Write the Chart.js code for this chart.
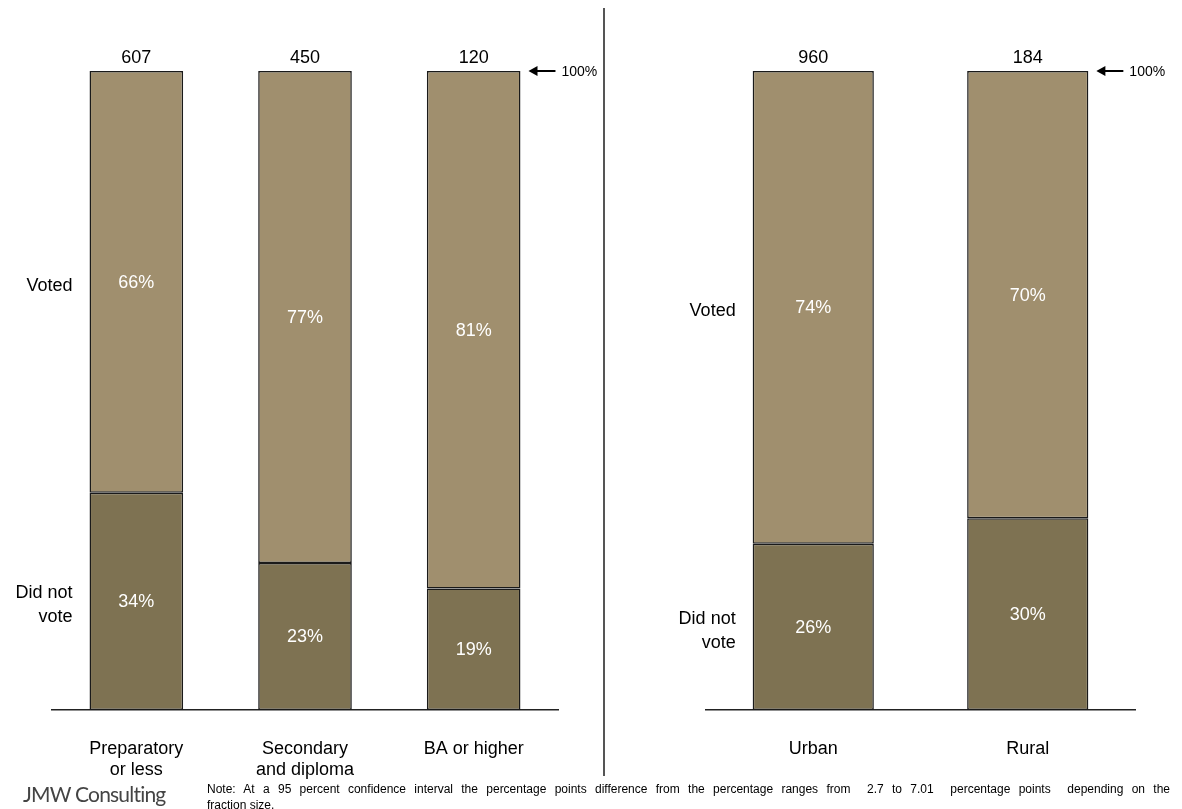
<!DOCTYPE html>
<html>
<head>
<meta charset="utf-8">
<script src="https://cdn.jsdelivr.net/npm/chart.js@4"></script>
<style>
  html, body { margin: 0; padding: 0; background: #fff; }
  #wrap { position: relative; width: 1182px; height: 809px; overflow: hidden; font-family: "Liberation Sans", Arial, sans-serif; }
  #left { position: absolute; left: 0; top: 0; }
  #right { position: absolute; left: 604px; top: 0; }
  #divider { position: absolute; left: 603px; top: 8px; width: 2px; height: 768px; background: #555; }
  #logo { position: absolute; left: 23px; top: 781px; font-family: Lato, "Open Sans", sans-serif; font-size: 21px; color: #444; letter-spacing: -0.8px; }
  #note { position: absolute; left: 207px; top: 781px; width: 963px; font-size: 12px; line-height: 16px; color: #000; white-space: pre-wrap; }
  #note .l1 { text-align: justify; text-align-last: justify; }
</style>
</head>
<body>
<div id="wrap">
  <canvas id="left" width="604" height="809"></canvas>
  <canvas id="right" width="578" height="809"></canvas>
  <div id="divider"></div>
  <div id="logo">JMW Consulting</div>
  <div id="note"><div class="l1">Note: At a 95 percent confidence interval the percentage points difference from the percentage ranges from  2.7 to 7.01  percentage points  depending on the</div><div>fraction size.</div></div>
</div>
<script>
const $ = id => document.getElementById(id);

// education panel
const eduLabels = [["Preparatory", "or less"], ["Secondary", "and diploma"], ["BA or higher"]];
const eduNotVoted = [34, 23, 19];
const eduVoted = [66, 77, 81];
const eduCounts = [607, 450, 120];

// urban / rural panel
const areaLabels = ["Urban", "Rural"];
const areaNotVoted = [26, 30];
const areaVoted = [74, 70];
const areaCounts = [960, 184];

const rowLabels = [["Did not", "vote"], ["Voted"]];
const topMark = "100%";

const FONT = "Liberation Sans";
const LIGHT = "#A08F6E";
const DARK = "#7E7252";

const etiquetas = {
    id: "etiquetas",
    afterDatasetsDraw(chart) {
        const ctx = chart.ctx;
        const counts = chart.options.plugins.etiquetas.counts;
        ctx.save();
        ctx.textAlign = "center";
        ctx.textBaseline = "middle";

        // percentages inside each segment
        ctx.font = `18px "${FONT}"`;
        ctx.fillStyle = "#fff";
        chart.data.datasets.forEach((ds, i) => {
            chart.getDatasetMeta(i).data.forEach((bar, j) => {
                ctx.fillText(ds.data[j] + "%", bar.x, (bar.y + bar.base) / 2 + 1);
            });
        });

        // counts above the bars
        const topBars = chart.getDatasetMeta(1).data;
        ctx.fillStyle = "#000";
        topBars.forEach((bar, j) => ctx.fillText(counts[j], bar.x, bar.y - 13));

        // row labels next to the first bar
        ctx.textAlign = "right";
        chart.data.datasets.forEach((ds, i) => {
            const bar = chart.getDatasetMeta(i).data[0];
            const x = bar.x - bar.width / 2 - 17;
            const lines = rowLabels[i];
            const yc = (bar.y + bar.base) / 2 + 4;
            lines.forEach((t, k) => ctx.fillText(t, x, yc + (k - (lines.length - 1) / 2) * 24));
        });

        // arrow pointing at 100%
        const last = topBars[topBars.length - 1];
        const ax = last.x + last.width / 2 + 8;
        const ay = last.y;
        ctx.strokeStyle = "#000";
        ctx.lineWidth = 2;
        ctx.beginPath();
        ctx.moveTo(ax + 6, ay);
        ctx.lineTo(ax + 27, ay);
        ctx.stroke();
        ctx.beginPath();
        ctx.moveTo(ax, ay);
        ctx.lineTo(ax + 9, ay - 5);
        ctx.lineTo(ax + 9, ay + 5);
        ctx.closePath();
        ctx.fill();
        ctx.textAlign = "left";
        ctx.font = `14px "${FONT}"`;
        ctx.fillText(topMark, ax + 33, ay + 1);

        ctx.restore();
    }
};

function criarPainel(id, labels, naoVotou, votou, counts, pad, largura) {
    new Chart($(id), {
        type: "bar",
        data: {
            labels,
            datasets: [
                { label: "Did not vote", data: naoVotou, backgroundColor: DARK },
                { label: "Voted", data: votou, backgroundColor: LIGHT }
            ]
        },
        options: {
            responsive: false,
            animation: false,
            layout: { padding: { left: pad.left, right: pad.right, top: 71, bottom: 0 } },
            datasets: {
                bar: {
                    borderColor: "#1a1a1a",
                    borderWidth: 1.5,
                    borderSkipped: false,
                    categoryPercentage: 1,
                    barPercentage: largura
                }
            },
            plugins: {
                legend: { display: false },
                tooltip: { enabled: false },
                etiquetas: { counts }
            },
            scales: {
                x: {
                    stacked: true,
                    grid: { display: false },
                    border: { display: true, color: "#222", width: 1.5 },
                    ticks: { color: "#000", font: { family: FONT, size: 18 }, padding: 20, maxRotation: 0 },
                    afterFit: s => { s.height = 99; }
                },
                y: {
                    stacked: true,
                    display: false,
                    min: 0,
                    max: 100
                }
            }
        },
        plugins: [etiquetas]
    });
}

window.onload = () => {
    criarPainel("left", eduLabels, eduNotVoted, eduVoted, eduCounts, { left: 52, right: 46 }, 0.555);
    criarPainel("right", areaLabels, areaNotVoted, areaVoted, areaCounts, { left: 102, right: 47 }, 0.565);
};
</script>
</body>
</html>
